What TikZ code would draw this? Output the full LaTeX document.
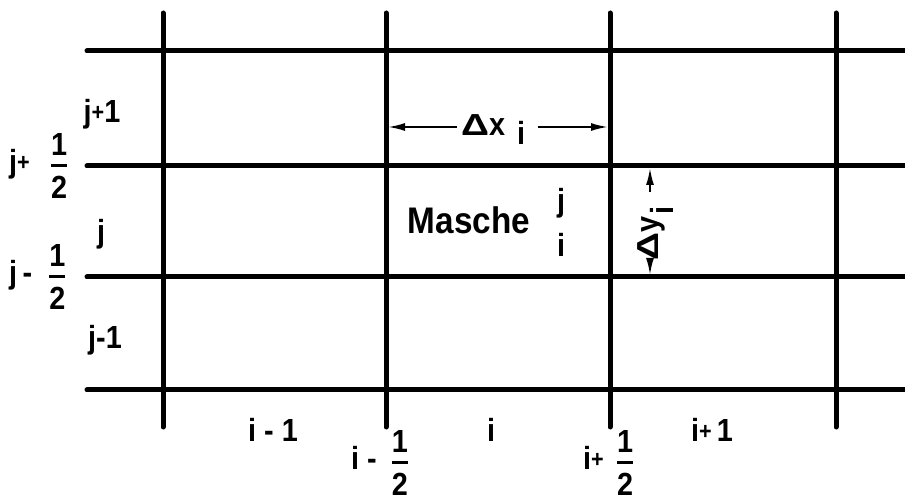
\documentclass[tikz,border=0pt]{standalone}
\usepackage{amsmath}
\usepackage{fontspec}
\setmainfont[FakeStretch=0.9]{Liberation Sans}
\usetikzlibrary{arrows.meta}
\newcommand{\hf}{\genfrac{}{}{3pt}{0}{\text{1}}{\text{2}}}
\newcommand{\splus}{\raisebox{2pt}{\fontsize{24}{28}\selectfont+}}
\newcommand{\bigdelta}{\scalebox{1.35}[0.95]{Δ}}
\begin{document}
\begin{tikzpicture}[x=1pt,y=-1pt,
  gridline/.style={line width=5pt,line cap=round},
  lbl/.style={inner sep=0pt,font=\fontsize{32}{38}\selectfont\bfseries},
  big/.style={inner sep=0pt,font=\fontsize{37}{44}\selectfont\bfseries},
  dim/.style={line width=2pt,-{Latex[length=17pt,width=8pt]}}]
\useasboundingbox (0,0) rectangle (905,502);
% grid coordinates
\foreach \n/\x in {a/163,b/386,c/610,d/836}{
  \coordinate (v\n t) at (\x,13);
  \coordinate (v\n b) at (\x,427);
  \draw[gridline] (v\n t) -- (v\n b);
}
\foreach \n/\y in {1/51,2/166,3/277,4/390}{
  \coordinate (h\n l) at (87,\y);
  \coordinate (h\n r) at (910,\y);
  \draw[gridline] (h\n l) -- (h\n r);
}
% left labels
\node[lbl,anchor=base] (jp1) at (102,123) {j\splus1};
\node[lbl,anchor=west] (jph) at (9,166) {j\splus\hspace{20pt}$\hf$};
\node[lbl,anchor=base] (j) at (101,243) {j};
\node[lbl,anchor=west] (jmh) at (9,277) {j\,-\hspace{16pt}$\hf$};
\node[lbl,anchor=base] (jm1) at (105,349) {j-1};
% bottom labels
\node[lbl,anchor=base] (im1) at (273,442) {i - 1};
\node[lbl,anchor=base] (i) at (491,442) {i};
\node[lbl,anchor=base] (ip1) at (712,442) {i\splus\,1};
\node[lbl,anchor=west] (imh) at (351,463) {i -\hspace{14pt}$\hf$};
\node[lbl,anchor=west] (iph) at (583,463) {i\splus\hspace{12pt}$\hf$};
% mesh label
\node[big,anchor=base] (masche) at (469,234) {Masche};
\node[lbl,anchor=base] (mj) at (561,212) {j};
\node[lbl,anchor=base] (mi) at (561,257) {i};
% delta x
\node[lbl,anchor=base west] (dx) at (461,136) {\bigdelta x\hspace{12pt}\raisebox{-9pt}{i}};
\coordinate (dxl) at (388,127);
\coordinate (dxr) at (608,127);
\draw[dim] (457,127) -- (dxl);
\draw[dim] (538,127) -- (dxr);
% delta y
\node[lbl,rotate=90,anchor=base west] (dy) at (658,261) {\bigdelta y\hspace{2pt}\raisebox{-15pt}{i}};
\coordinate (dyt) at (650,168);
\coordinate (dyb) at (650,275);
\draw[dim] (650,192) -- (dyt);
\draw[dim] (650,262) -- (dyb);
\end{tikzpicture}
\end{document}
